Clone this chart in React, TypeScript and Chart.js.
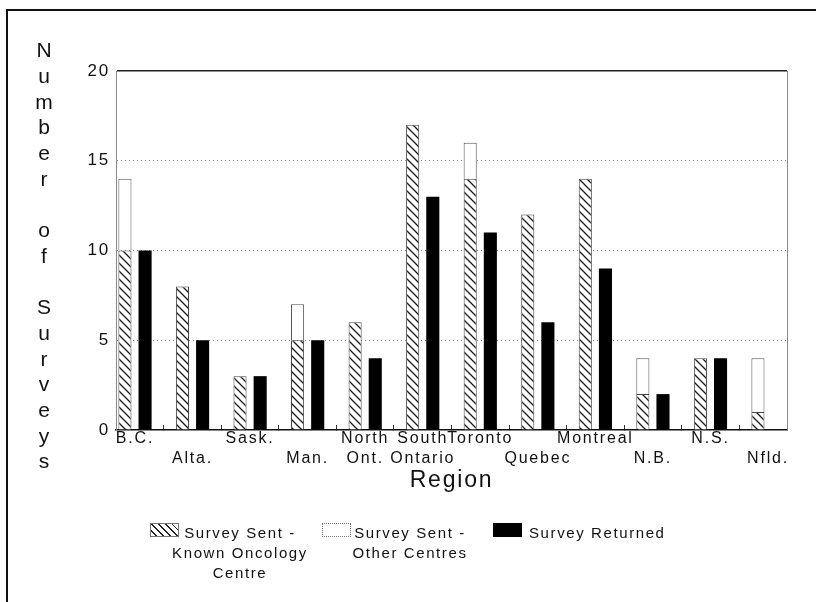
import React, { useEffect, useRef } from 'react';
import { Chart, registerables } from 'chart.js';

Chart.register(...registerables);

// ---- data ----
const categories = ['B.C.', 'Alta.', 'Sask.', 'Man.', 'North Ont.', 'South Ontario', 'Toronto', 'Quebec', 'Montreal', 'N.B.', 'N.S.', 'Nfld.'];
const tickLabels: string[][] = [
  ['B.C.', ''], ['', 'Alta.'], ['Sask.', ''], ['', 'Man.'], ['North', 'Ont.'], ['South', 'Ontario'],
  ['Toronto', ''], ['', 'Quebec'], ['Montreal', ''], ['', 'N.B.'], ['N.S.', ''], ['', 'Nfld.'],
];
const sentKnown = [10, 8, 3, 5, 6, 17, 14, 12, 14, 2, 4, 1];
const sentOther = [4, 0, 0, 2, 0, 0, 2, 0, 0, 2, 0, 3];
const returned = [10, 5, 3, 5, 4, 13, 11, 6, 9, 2, 4, 0];
const yTicks = [0, 5, 10, 15, 20];
const seriesNames = ['Survey Sent - Known Oncology Centre', 'Survey Sent - Other Centres', 'Survey Returned'];
const yTitle = 'Number of Surveys';
const xTitle = 'Region';

const FONT = "'Liberation Sans', Arial, Helvetica, sans-serif";
const X_MIN = -0.33;
const X_MAX = categories.length - 1 + 0.33;

function makeHatch(): CanvasPattern | string {
  const s = 8;
  const c = document.createElement('canvas');
  c.width = s;
  c.height = s;
  const g = c.getContext('2d');
  if (!g) return '#fff';
  g.fillStyle = '#fff';
  g.fillRect(0, 0, s, s);
  g.strokeStyle = '#1a1a1a';
  g.lineWidth = 1.3;
  g.beginPath();
  g.moveTo(-1, -1); g.lineTo(s + 1, s + 1);
  g.moveTo(-1, s - 1); g.lineTo(1, s + 1);
  g.moveTo(s - 1, -1); g.lineTo(s + 1, 1);
  g.stroke();
  return g.createPattern(c, 'repeat') || '#fff';
}

const spacingPlugin = {
  id: 'letterSpacing',
  beforeLayout(c: any) { c.ctx.letterSpacing = '1.8px'; },
  beforeDraw(c: any) { c.ctx.letterSpacing = '1.8px'; },
};

export default function App() {
  const ref = useRef<HTMLCanvasElement | null>(null);

  useEffect(() => {
    if (!ref.current) return;
    const hatch = makeHatch();
    const boundaryTicks = categories.slice(1).map((_, i) => i + 0.5);
    const chart = new Chart(ref.current, {
      type: 'bar',
      data: {
        datasets: [
          {
            label: seriesNames[0],
            data: sentKnown.map((v, i) => ({ x: i, y: v })),
            stack: 'sent',
            backgroundColor: hatch as any,
            borderColor: '#444',
            borderWidth: 1,
            categoryPercentage: 0.7,
            barPercentage: 0.65,
          },
          {
            label: seriesNames[1],
            data: sentOther.map((v, i) => ({ x: i, y: v })),
            stack: 'sent',
            backgroundColor: '#fff',
            borderColor: '#555',
            borderWidth: 1,
            categoryPercentage: 0.7,
            barPercentage: 0.65,
          },
          {
            label: seriesNames[2],
            data: returned.map((v, i) => ({ x: i, y: v })),
            stack: 'ret',
            backgroundColor: '#000',
            borderColor: '#000',
            borderWidth: 0,
            categoryPercentage: 0.7,
            barPercentage: 0.65,
          },
        ],
      } as any,
      options: {
        animation: false,
        responsive: false,
        layout: { padding: { top: 71, right: 29, left: 0, bottom: 0 } },
        plugins: { legend: { display: false }, tooltip: { enabled: false } },
        scales: {
          x: {
            type: 'linear',
            axis: 'x',
            position: 'bottom',
            weight: 1,
            min: X_MIN,
            max: X_MAX,
            offset: false,
            afterBuildTicks: (s: any) => { s.ticks = categories.map((_, i) => ({ value: i })); },
            afterFit: (s: any) => { s.height = 172; },
            grid: { display: false, drawTicks: false, offset: false },
            border: { display: false },
            ticks: {
              autoSkip: false,
              maxRotation: 0,
              minRotation: 0,
              padding: -2,
              color: '#111',
              font: { family: FONT, size: 16, lineHeight: 1.28 },
              callback: (_v: any, i: number) => tickLabels[i],
            },
            title: {
              display: true,
              text: xTitle,
              color: '#111',
              font: { family: FONT, size: 23 },
              padding: { top: 0, bottom: 108 },
            },
          },
          xb: {
            type: 'linear',
            axis: 'x',
            position: 'bottom',
            weight: 0,
            min: X_MIN,
            max: X_MAX,
            offset: false,
            afterBuildTicks: (s: any) => { s.ticks = boundaryTicks.map((v) => ({ value: v })); },
            afterFit: (s: any) => { s.height = 0; },
            grid: {
              display: true,
              drawOnChartArea: false,
              drawTicks: true,
              tickLength: -5,
              color: '#333',
              tickColor: '#333',
              offset: false,
              lineWidth: 1,
            },
            border: { display: true, color: '#111', width: 1.5 },
            ticks: { display: false },
          },
          y: {
            type: 'linear',
            position: 'left',
            stacked: true,
            min: 0,
            max: 20,
            afterBuildTicks: (s: any) => { s.ticks = yTicks.map((v) => ({ value: v })); },
            afterFit: (s: any) => { s.width = 116; },
            grid: {
              drawTicks: false,
              color: (c: any) => (c.tick && c.tick.value === 20 ? '#222' : c.tick && c.tick.value === 0 ? 'rgba(0,0,0,0)' : '#888'),
              lineWidth: (c: any) => (c.tick && c.tick.value === 20 ? 1.5 : 1),
            },
            border: {
              display: true,
              color: '#888',
              width: 1,
              dash: (c: any) => (c.tick && c.tick.value === 20 ? [] : [1, 3]),
            },
            ticks: { padding: 6, color: '#111', font: { family: FONT, size: 17 } },
          },
          y2: {
            type: 'linear',
            axis: 'y',
            position: 'right',
            min: 0,
            max: 20,
            afterFit: (s: any) => { s.width = 0; },
            grid: { display: false },
            border: { display: true, color: '#888', width: 1 },
            ticks: { display: false },
          },
        },
      } as any,
      plugins: [spacingPlugin as any],
    });
    return () => chart.destroy();
  }, []);

  const swatchBase: React.CSSProperties = {
    position: 'absolute',
    top: 523,
    width: 29,
    height: 14,
    boxSizing: 'border-box',
  };
  const legendText: React.CSSProperties = {
    position: 'absolute',
    top: 523,
    fontSize: 15,
    lineHeight: '20px',
    letterSpacing: '1.6px',
    color: '#111',
    whiteSpace: 'nowrap',
  };

  return (
    <div
      style={{
        position: 'fixed',
        left: 0,
        top: 0,
        width: 816,
        height: 602,
        overflow: 'hidden',
        background: '#fff',
        fontFamily: FONT,
      }}
    >
      <canvas ref={ref} width={816} height={602} style={{ position: 'absolute', left: 0, top: 0, display: 'block' }} />
      <div
        style={{
          position: 'absolute',
          left: 6,
          top: 9,
          width: 900,
          height: 700,
          borderLeft: '2px solid #111',
          borderTop: '2px solid #111',
          pointerEvents: 'none',
        }}
      />
      <div
        style={{
          position: 'absolute',
          left: 24,
          top: 37.3,
          width: 40,
          textAlign: 'center',
          fontSize: 21,
          lineHeight: '25.7px',
          color: '#111',
        }}
      >
        {yTitle.split('').map((ch, i) => (
          <div key={i} style={{ height: 25.7 }}>{ch === ' ' ? '\u00a0' : ch}</div>
        ))}
      </div>

      <div
        style={{
          ...swatchBase,
          left: 150,
          border: '1px solid #777',
          background: 'repeating-linear-gradient(45deg, #fff 0px, #fff 3.5px, #222 3.5px, #222 4.8px)',
        }}
      />
      <div style={{ ...legendText, left: 160, width: 160, textAlign: 'center' }}>
        Survey Sent -<br />Known Oncology<br />Centre
      </div>

      <div style={{ ...swatchBase, left: 322, border: '1px dotted #777', background: '#fff' }} />
      <div style={{ ...legendText, left: 330, width: 160, textAlign: 'center' }}>
        Survey Sent -<br />Other Centres
      </div>

      <div style={{ ...swatchBase, left: 493, background: '#000' }} />
      <div style={{ ...legendText, left: 529 }}>Survey Returned</div>
    </div>
  );
}
